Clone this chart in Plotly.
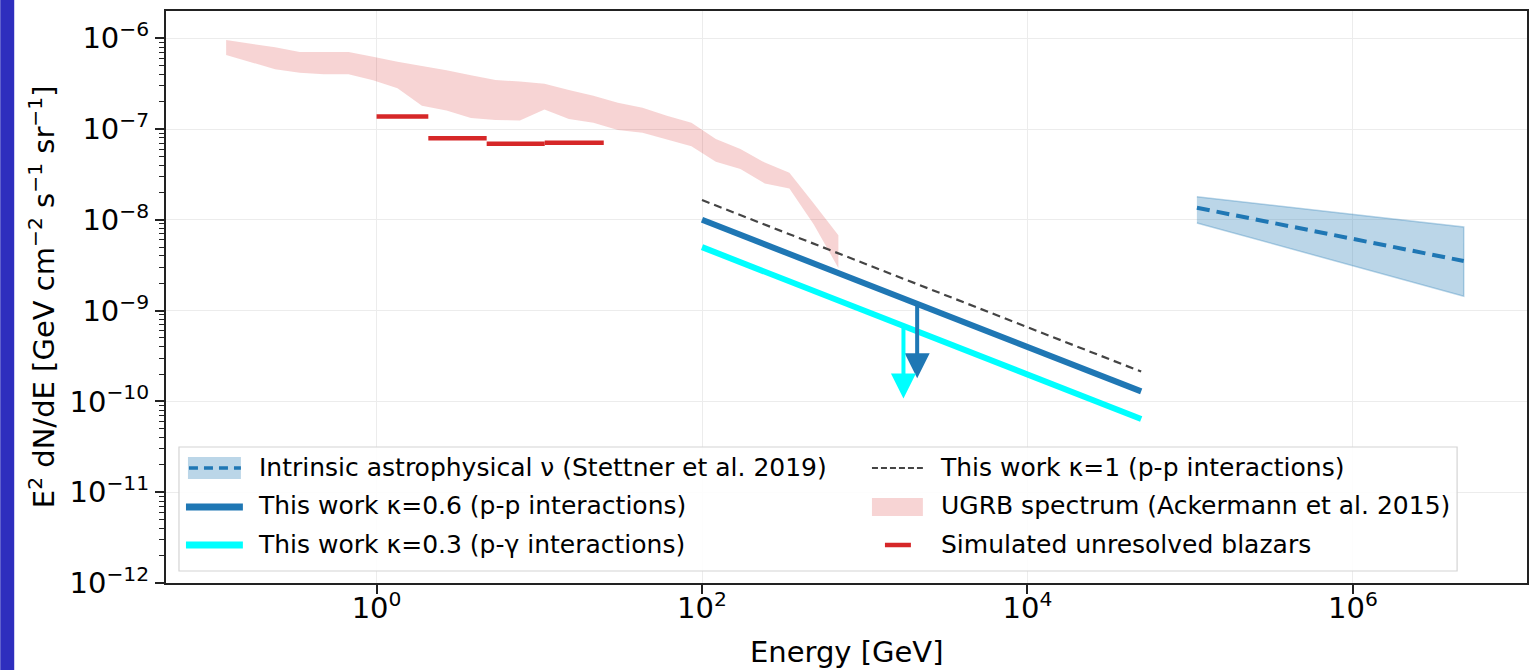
import numpy as np
import plotly.graph_objects as go

# ---------------- data ----------------
# UGRB spectrum (Ackermann et al. 2015): bin centres [GeV] and band limits
ugrb_E = [0.119, 0.168, 0.238, 0.337, 0.475, 0.673, 0.951, 1.345, 1.90, 2.69,
          3.80, 5.38, 7.60, 10.76, 15.2, 21.5, 30.4, 43.1, 60.8, 86.1,
          121.6, 172.2, 243.2, 344.4, 486.4, 688.7]
ugrb_hi = [9.57e-7, 8.75e-7, 7.94e-7, 7.05e-7, 7.05e-7, 7.05e-7, 6.24e-7, 5.50e-7, 4.95e-7, 4.45e-7,
           3.92e-7, 3.47e-7, 3.33e-7, 3.16e-7, 2.69e-7, 2.32e-7, 1.95e-7, 1.72e-7, 1.40e-7, 1.17e-7,
           7.76e-8, 6.03e-8, 4.27e-8, 3.31e-8, 1.51e-8, 6.76e-9]
ugrb_lo = [6.53e-7, 5.51e-7, 4.56e-7, 4.16e-7, 4.02e-7, 4.02e-7, 3.44e-7, 2.82e-7, 1.80e-7, 1.60e-7,
           1.32e-7, 1.26e-7, 1.24e-7, 1.64e-7, 1.29e-7, 1.17e-7, 9.77e-8, 9.12e-8, 7.76e-8, 6.46e-8,
           4.37e-8, 3.63e-8, 2.51e-8, 2.21e-8, 8.91e-9, 2.95e-9]

# Simulated unresolved blazars: energy bin edges [GeV] and flux per bin
blz_edges = [1.0, 2.08, 4.75, 10.8, 24.9]
blz_flux = [1.37e-7, 7.9e-8, 6.9e-8, 7.05e-8]

# This work (power laws from 100 GeV to 50 TeV)
line_E = [1.0e2, 5.0e4]
pp_k1 = [1.65e-8, 2.13e-10]
pp_k06 = [1.0e-8, 1.29e-10]
pg_k03 = [5.0e-9, 6.4e-11]

# Upper-limit arrows
arrow_E = [2.1e3, 1.73e3]
arrow_top = [1.185e-9, 6.8e-10]
arrow_tip = [1.8e-10, 1.08e-10]
arrow_col = ["#1f77b4", "#00ffff"]

# Intrinsic astrophysical neutrinos (Stettner et al. 2019)
nu_E = [1.1e5, 4.8e6]
nu_best = [1.36e-8, 3.52e-9]
nu_hi = [1.79e-8, 8.35e-9]
nu_lo = [9.24e-9, 1.44e-9]

# Axis ticks
x_tickvals = [1e0, 1e2, 1e4, 1e6]
x_ticktext = ["10<sup>0</sup>", "10<sup>2</sup>", "10<sup>4</sup>", "10<sup>6</sup>"]
y_decades = [-12, -11, -10, -9, -8, -7, -6]
y_tickvals = [10.0 ** d for d in y_decades]
y_ticktext = ["10<sup>\u2212%d</sup>" % (-d) for d in y_decades]
y_minor = [m * 10.0 ** d for d in range(-12, -5) for m in range(2, 10)]

FONT = "DejaVu Sans"
BLUE = "#1f77b4"
CYAN = "#00ffff"
RED = "#d62728"
GREY = "#444444"
PINK = "rgba(214,39,40,0.2)"
LBLUE = "rgba(31,119,180,0.3)"
NONE = "rgba(0,0,0,0)"

# plot area in pixels (for placing the legend frame)
PL, PR, PT, PB = 166, 1529, 11, 583
PW, PH = PR - PL, PB - PT


def px(x):
    return (x - PL) / PW


def py(y):
    return (PB - y) / PH


fig = go.Figure()

# UGRB band
fig.add_trace(go.Scatter(
    x=ugrb_E + ugrb_E[::-1], y=ugrb_hi + ugrb_lo[::-1],
    mode="lines", fill="toself", fillcolor=PINK,
    line=dict(width=0, color=PINK), showlegend=False, hoverinfo="skip"))

# neutrino band + best fit
fig.add_trace(go.Scatter(
    x=nu_E + nu_E[::-1], y=nu_hi + nu_lo[::-1],
    mode="lines", fill="toself", fillcolor=LBLUE,
    line=dict(width=1.5, color=LBLUE), showlegend=False, hoverinfo="skip"))
fig.add_trace(go.Scatter(
    x=nu_E, y=nu_best, mode="lines",
    line=dict(color=BLUE, width=4, dash="13px,7px"), showlegend=False))

# blazar segments
bx, by = [], []
for i, v in enumerate(blz_flux):
    bx += [blz_edges[i], blz_edges[i + 1], None]
    by += [v, v, None]
fig.add_trace(go.Scatter(
    x=bx, y=by, mode="lines", line=dict(color=RED, width=4.5), showlegend=False))

# model lines
fig.add_trace(go.Scatter(
    x=line_E, y=pp_k1, mode="lines",
    line=dict(color=GREY, width=2.2, dash="8px,5px"), showlegend=False))
fig.add_trace(go.Scatter(
    x=line_E, y=pp_k06, mode="lines", line=dict(color=BLUE, width=6), showlegend=False))
fig.add_trace(go.Scatter(
    x=line_E, y=pg_k03, mode="lines", line=dict(color=CYAN, width=6), showlegend=False))

# ---- legend entries (two columns = two legends); handles drawn as shapes ----
legend_entries = [
    ("legend", "Intrinsic astrophysical \u03bd (Stettner et al. 2019)"),
    ("legend", "This work \u03ba=0.6 (p-p interactions)"),
    ("legend", "This work \u03ba=0.3 (p-\u03b3 interactions)"),
    ("legend2", "This work \u03ba=1 (p-p interactions)"),
    ("legend2", "UGRB spectrum (Ackermann et al. 2015)"),
    ("legend2", "Simulated unresolved blazars"),
]
for k, (lg, name) in enumerate(legend_entries):
    fig.add_trace(go.Scatter(x=[None], y=[None], mode="lines",
                             line=dict(color=NONE, width=1), name=name,
                             legend=lg, legendgroup="g%d" % k, showlegend=True))

# arrows
annotations = []
for e, top, tip, col in zip(arrow_E, arrow_top, arrow_tip, arrow_col):
    annotations.append(dict(
        x=np.log10(e), y=np.log10(tip), ax=np.log10(e), ay=np.log10(top),
        xref="x", yref="y", axref="x", ayref="y", text="",
        showarrow=True, arrowhead=2, arrowsize=1.25, arrowwidth=4,
        arrowcolor=col, standoff=0, startstandoff=0))

# axis titles
annotations.append(dict(
    text="E<sup>2</sup> dN/dE [GeV cm<sup>\u22122</sup> s<sup>\u22121</sup> sr<sup>\u22121</sup>]",
    xref="paper", yref="paper", x=px(42), y=0.5, textangle=-90,
    showarrow=False, xanchor="center", yanchor="middle",
    font=dict(family=FONT, size=29, color="black")))
annotations.append(dict(
    text="Energy [GeV]", xref="paper", yref="paper", x=0.5, y=py(652),
    showarrow=False, xanchor="center", yanchor="middle",
    font=dict(family=FONT, size=29, color="black")))

axis_common = dict(
    type="log", showline=True, linecolor="#222222", linewidth=2, mirror=True,
    ticks="outside", ticklen=9, tickwidth=1.5, tickcolor="#222222",
    showgrid=True, gridcolor="#ececec", gridwidth=1, zeroline=False,
    tickfont=dict(family=FONT, size=29, color="black"),
)

fig.update_xaxes(range=[-1.294, 7.07], tickmode="array",
                 tickvals=x_tickvals, ticktext=x_ticktext,
                 ticklabelstandoff=-11, **axis_common)
fig.update_yaxes(range=[-12, -5.70], tickmode="array",
                 tickvals=y_tickvals, ticktext=y_ticktext,
                 minor=dict(tickmode="array", tickvals=y_minor, ticks="outside",
                            ticklen=5, tickwidth=1.2, tickcolor="#222222", showgrid=False),
                 **axis_common)

# legend frame and handles
ROW = [468, 507, 545]
C1, C2 = 187, 873


def hline(x0, x1, yy, **ln):
    return dict(type="line", xref="paper", yref="paper", x0=px(x0), x1=px(x1),
                y0=py(yy), y1=py(yy), line=ln, layer="above")


def swatch(x0, x1, yy, h, col):
    return dict(type="rect", xref="paper", yref="paper", x0=px(x0), x1=px(x1),
                y0=py(yy + h / 2), y1=py(yy - h / 2), fillcolor=col,
                line=dict(width=0), layer="above")


shapes = [
    dict(type="rect", xref="paper", yref="paper",
         x0=-PL / PW, x1=px(14), y0=py(670), y1=py(0),
         fillcolor="#2e2ebe", line=dict(width=0), layer="above"),
    dict(type="rect", xref="paper", yref="paper",
         x0=px(179), x1=px(1459), y0=py(571), y1=py(447),
         fillcolor="rgba(255,255,255,0.9)", line=dict(color="#d4d4d4", width=1.2), layer="above"),
    swatch(C1 + 1, C1 + 54, ROW[0], 22, LBLUE),
    hline(C1 + 2, C1 + 54, ROW[0], color=BLUE, width=3.5, dash="9px,6px"),
    hline(C1 - 1, C1 + 56, ROW[1], color=BLUE, width=7),
    hline(C1 - 1, C1 + 56, ROW[2], color=CYAN, width=7),
    hline(C2, C2 + 51, ROW[0], color=GREY, width=2, dash="6px,3px"),
    swatch(C2, C2 + 51, ROW[1], 18, PINK),
    hline(C2 + 13, C2 + 39, ROW[2], color=RED, width=4.5),
]

leg_common = dict(
    orientation="v", xanchor="left", yanchor="top",
    bgcolor=NONE, borderwidth=0,
    font=dict(family=FONT, size=25, color="black"),
    traceorder="grouped", tracegroupgap=3,
)

fig.update_layout(
    width=1534, height=670,
    margin=dict(l=PL, r=1534 - PR, t=PT, b=670 - PB),
    paper_bgcolor="white", plot_bgcolor="white",
    font=dict(family=FONT, size=25, color="black"),
    annotations=annotations,
    showlegend=True,
    legend=dict(x=px(C1 - 7), y=py(ROW[0] - 25), itemwidth=69, **leg_common),
    legend2=dict(x=px(C2 - 7), y=py(ROW[0] - 25), itemwidth=66, **leg_common),
    shapes=shapes,
)

fig.write_html("out.html")
